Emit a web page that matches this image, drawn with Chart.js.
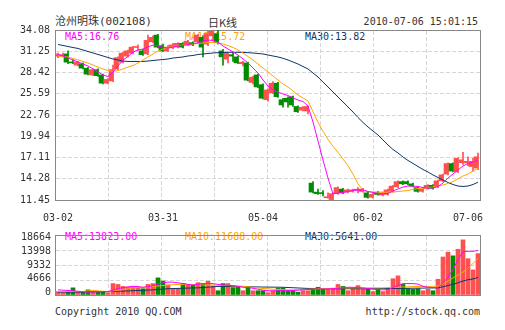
<!DOCTYPE html>
<html>
<head>
<meta charset="utf-8">
<script src="https://cdn.jsdelivr.net/npm/chart.js@4.4.0/dist/chart.umd.min.js"></script>
<style>
    html, body { margin: 0; padding: 0; background: #fff; }
    #wrap { position: relative; width: 505px; height: 330px; overflow: hidden;
            font-family: 'DejaVu Sans Mono', 'Noto Sans CJK SC', monospace; font-size: 10px; color: #333; }
    .txt { position: absolute; white-space: nowrap; line-height: 12px; }
    canvas { position: absolute; left: 0; }
</style>
</head>
<body>
<div id="wrap">
    <div class="txt" style="left:55px;top:16px;font-size:11px;">沧州明珠(002108)</div>
    <div class="txt" style="left:208px;top:16px;font-size:11px;font-family:'Noto Sans CJK SC';">日K线</div>
    <div class="txt" style="right:27px;top:16px;">2010-07-06 15:01:15</div>

    <div class="txt" style="left:65px;top:31px;color:#ff00ff;">MA5:16.76</div>
    <div class="txt" style="left:185px;top:31px;color:#ffa500;">MA10:15.72</div>
    <div class="txt" style="left:305px;top:31px;color:#0d3768;">MA30:13.82</div>

    <div class="txt" style="left:65px;top:231px;color:#ff00ff;">MA5:13823.00</div>
    <div class="txt" style="left:185px;top:231px;color:#ffa500;">MA10:11688.00</div>
    <div class="txt" style="left:305px;top:231px;color:#0d3768;">MA30:5641.00</div>

    <div class="txt" style="left:55px;top:306px;">Copyright 2010 QQ.COM</div>
    <div class="txt" style="right:25px;top:306px;">http://stock.qq.com</div>

    <canvas id="kline" width="505" height="225" style="top:0"></canvas>
    <canvas id="vol" width="505" height="80" style="top:225px"></canvas>
</div>

<script>
/* ── Data ─────────────────────────────────────────── */
const dateLabels = ['03-02', '03-31', '05-04', '06-02', '07-06'];
const dateIdx = [0, 21, 41, 62, 82];
const priceTicks = [11.45, 14.28, 17.11, 19.94, 22.76, 25.59, 28.42, 31.25, 34.08];
const volTicks = [0, 4666, 9332, 13998, 18664];

const opens = [
    30.6, 30.6, 30.9, 29.75, 29.4, 29.6, 29.0, 28.1, 28.8, 28.1,
    27.0, 27.3, 28.9, 29.8, 30.6, 31.0, 31.75, 31.3, 30.9, 32.5,
    33.4, 32.0, 31.3, 31.7, 31.8, 32.3, 32.1, 32.4, 32.5, 33.1,
    32.2, 33.3, 33.6, 31.3, 30.2, 30.8, 30.5, 29.6, 29.7, 27.1,
    28.1, 26.8, 24.8, 25.7, 27.0, 24.8, 25.0, 25.2, 23.9, 23.4,
    23.3, 13.7, 12.5, 12.4, 11.75, 11.5, 12.3, 12.9, 12.5, 12.6,
    12.75, 12.6, 12.4, 11.8, 12.4, 12.1, 12.2, 12.6, 13.2, 13.9,
    13.9, 13.6, 13.1, 12.6, 13.0, 13.4, 13.2, 14.0, 14.9, 16.3,
    15.2, 16.4, 16.4, 15.9, 15.7
];
const highs = [
    31.0, 31.0, 31.3, 30.1, 29.9, 29.7, 29.1, 28.9, 28.9, 28.2,
    27.6, 29.4, 30.5, 31.1, 31.4, 31.9, 32.1, 31.5, 33.4, 33.3,
    33.5, 32.2, 32.0, 32.3, 32.4, 32.4, 32.7, 32.5, 33.5, 33.3,
    33.9, 34.05, 34.0, 31.5, 31.1, 31.1, 30.6, 29.9, 29.8, 27.9,
    28.2, 26.9, 26.2, 27.2, 27.1, 25.0, 25.2, 25.3, 24.0, 23.9,
    24.0, 13.9, 12.9, 12.7, 12.4, 12.4, 13.2, 13.0, 12.9, 12.9,
    13.1, 13.0, 12.5, 12.3, 12.6, 12.5, 12.9, 13.4, 14.0, 14.0,
    14.0, 13.7, 13.2, 13.0, 13.5, 13.5, 14.1, 14.9, 16.4, 16.4,
    17.1, 17.8, 17.2, 17.0, 17.7
];
const lows = [
    30.4, 30.5, 29.6, 29.6, 29.3, 28.9, 28.1, 28.0, 27.9, 26.9,
    26.9, 27.2, 28.8, 29.7, 30.5, 30.9, 31.4, 30.7, 30.8, 32.4,
    31.7, 31.2, 31.2, 31.6, 31.7, 31.7, 32.0, 32.0, 32.4, 30.5,
    32.0, 32.8, 32.2, 29.4, 29.7, 29.9, 29.6, 29.3, 27.3, 26.9,
    26.4, 24.9, 24.6, 25.6, 25.1, 23.8, 23.8, 23.9, 23.1, 23.3,
    22.9, 12.4, 12.2, 12.0, 11.7, 11.45, 12.2, 12.3, 12.4, 12.5,
    12.4, 12.5, 11.7, 11.7, 12.1, 12.0, 12.1, 12.5, 13.1, 13.5,
    13.5, 13.2, 12.5, 12.5, 12.9, 12.9, 13.1, 13.9, 14.8, 15.2,
    15.1, 16.2, 16.0, 15.3, 15.5
];
const closes = [
    30.9, 30.8, 29.8, 29.7, 29.8, 29.0, 28.2, 28.8, 28.0, 27.0,
    27.5, 28.8, 30.4, 31.0, 31.3, 31.8, 31.8, 30.8, 32.7, 33.1,
    31.8, 31.3, 31.8, 32.1, 32.3, 31.8, 32.6, 32.1, 33.4, 31.8,
    33.6, 33.9, 32.4, 30.5, 31.0, 30.6, 29.7, 29.8, 27.4, 27.8,
    26.5, 25.0, 26.1, 27.0, 25.2, 24.1, 24.5, 24.1, 23.2, 23.8,
    23.9, 12.5, 12.3, 12.3, 11.8, 12.3, 13.1, 12.4, 12.8, 12.8,
    12.8, 12.9, 11.8, 12.2, 12.2, 12.4, 12.8, 13.3, 13.9, 13.6,
    13.6, 13.3, 12.6, 12.9, 13.4, 13.0, 14.0, 14.8, 16.3, 15.3,
    17.0, 16.8, 16.6, 16.6, 17.2
];

const ma5 = [
    30.82, 30.62, 30.35, 30.09, 29.82, 29.55, 29.29, 28.89, 28.49, 28.09,
    27.89, 28.49, 29.29, 30.09, 30.55, 31.15, 31.42, 31.55, 31.82, 32.08,
    31.95, 31.75, 31.68, 31.82, 31.95, 32.02, 32.15, 32.28, 32.35, 32.62,
    32.75, 32.68, 32.48, 31.95, 31.55, 31.15, 30.75, 30.22, 29.69, 29.02,
    28.36, 27.42, 26.63, 26.09, 25.83, 25.56, 25.36, 25.03, 24.76, 24.56,
    23.96, 21.83, 19.30, 16.77, 14.38, 12.25, 12.38, 12.45, 12.58, 12.71,
    12.78, 12.78, 12.58, 12.45, 12.32, 12.25, 12.32, 12.65, 12.92, 13.18,
    13.31, 13.31, 13.25, 13.11, 13.05, 13.05, 13.25, 13.71, 14.38, 14.91,
    15.44, 15.98, 16.31, 16.51, 16.76
];
const ma10 = [
    30.62, 30.55, 30.49, 30.29, 30.09, 29.89, 29.69, 29.42, 29.15, 28.89,
    28.69, 28.56, 28.69, 28.89, 29.15, 29.35, 29.69, 30.09, 30.49, 30.89,
    31.28, 31.55, 31.75, 31.88, 32.02, 32.08, 32.15, 32.22, 32.28, 32.35,
    32.42, 32.42, 32.35, 32.22, 32.02, 31.75, 31.42, 31.02, 30.55, 30.09,
    29.55, 29.02, 28.49, 27.96, 27.42, 26.89, 26.49, 25.96, 25.43, 25.03,
    24.63, 23.20, 21.80, 20.60, 19.50, 18.60, 17.80, 16.90, 16.00, 14.90,
    13.60, 12.71, 12.58, 12.52, 12.52, 12.48, 12.48, 12.52, 12.58, 12.65,
    12.71, 12.85, 12.98, 13.05, 13.11, 13.18, 13.25, 13.45, 13.65, 13.91,
    14.25, 14.65, 14.91, 15.31, 15.72
];
const ma30 = [
    32.15, 32.02, 31.88, 31.75, 31.62, 31.42, 31.22, 31.02, 30.82, 30.62,
    30.42, 30.22, 30.09, 29.95, 29.89, 29.89, 29.89, 29.89, 29.95, 30.02,
    30.09, 30.15, 30.22, 30.35, 30.42, 30.49, 30.62, 30.69, 30.82, 30.89,
    30.95, 31.02, 31.06, 31.09, 31.11, 31.11, 31.11, 31.09, 31.06, 31.02,
    30.95, 30.89, 30.75, 30.62, 30.49, 30.31, 30.09, 29.82, 29.55, 29.22,
    28.89, 28.36, 27.82, 27.16, 26.49, 25.83, 25.16, 24.50, 23.83, 23.16,
    22.43, 21.77, 21.17, 20.63, 20.10, 19.44, 18.77, 18.17, 17.71, 17.17,
    16.71, 16.31, 15.91, 15.51, 15.18, 14.78, 14.45, 14.11, 13.78, 13.51,
    13.31, 13.25, 13.31, 13.51, 13.82
];

const volumes = [
    1066, 800, 1066, 2222, 900, 900, 1600, 900, 900, 900,
    711, 3555, 3290, 2666, 2400, 2666, 2500, 1955, 3290, 3555,
    5332, 4355, 3110, 1777, 1955, 3555, 3290, 3110, 3822, 3555,
    4266, 2845, 1333, 3555, 3555, 2300, 2400, 1333, 2400, 1333,
    1333, 1333, 711, 1333, 2044, 2133, 1333, 1333, 888, 1333,
    1333, 2044, 2400, 2044, 2044, 2044, 3288, 2666, 1333, 2222,
    2930, 1777, 1777, 1066, 1777, 1066, 1777, 5065, 5955, 3290,
    1955, 1777, 1955, 1333, 1777, 1333, 4888, 11820, 13330, 12180,
    14220, 17150, 11290, 7820, 12880
];
const volMa5 = [
    1600, 1500, 1400, 1333, 1150, 1000, 900, 950, 1000, 1066,
    1066, 1500, 2000, 2300, 2550, 2666, 2600, 2400, 2600, 2900,
    3400, 3800, 4000, 4000, 3800, 3555, 3300, 3110, 3300, 3555,
    3555, 3555, 3300, 3110, 3000, 2930, 2700, 2400, 2300, 2100,
    1800, 1500, 1333, 1250, 1333, 1400, 1333, 1400, 1500, 1600,
    1700, 1777, 1800, 1850, 1900, 1955, 2100, 2300, 2400, 2400,
    2300, 2200, 2000, 1800, 1700, 1600, 1700, 2300, 3000, 3555,
    3555, 3555, 3400, 2700, 2400, 2300, 2222, 3800, 5500, 8000,
    11000, 13500, 13600, 13600, 13823
];
const volMa10 = [
    1066, 1066, 1066, 1100, 1100, 1100, 1300, 1400, 1300, 1150,
    1066, 1300, 1500, 1700, 1900, 2222, 2350, 2450, 2550, 2666,
    2800, 2950, 3110, 3200, 3290, 3290, 3290, 3250, 3200, 3110,
    3110, 3110, 3050, 3000, 2930, 2850, 2750, 2666, 2550, 2400,
    2200, 2000, 1955, 1800, 1700, 1650, 1600, 1600, 1650, 1700,
    1777, 1850, 1900, 1955, 2000, 2100, 2222, 2222, 2222, 2222,
    2222, 2222, 2222, 2222, 2222, 2222, 2300, 2300, 2400, 2500,
    2550, 2600, 2666, 2666, 2666, 2700, 2800, 3500, 4300, 5332,
    6200, 7110, 8400, 9800, 11400
];
const volMa30 = [
    888, 900, 900, 920, 930, 950, 970, 990, 1010, 1030,
    1066, 1120, 1170, 1220, 1280, 1333, 1400, 1460, 1530, 1600,
    1720, 1840, 1955, 2000, 2050, 2100, 2150, 2190, 2222, 2330,
    2440, 2550, 2666, 2666, 2666, 2666, 2666, 2666, 2580, 2540,
    2500, 2480, 2460, 2440, 2420, 2400, 2330, 2260, 2190, 2110,
    2044, 2030, 2010, 1990, 1970, 1955, 1955, 1955, 1955, 1955,
    1955, 1955, 1955, 1970, 1985, 2000, 2015, 2030, 2044, 2070,
    2090, 2110, 2130, 2150, 2175, 2200, 2222, 2550, 2950, 3350,
    3800, 4350, 4750, 5000, 5450
];

/* ── Styles ───────────────────────────────────────── */
const RED = '#ff5050';
const GREEN = '#008c00';
const C_MA5 = '#ff00ff';
const C_MA10 = '#ffa500';
const C_MA30 = '#0d3768';
const GRID = '#d6d6d6';
const FRAME = '#888888';
const CLEAR = 'rgba(0,0,0,0)';

Chart.defaults.font.family = "'DejaVu Sans Mono', monospace";
Chart.defaults.font.size = 10;
Chart.defaults.color = '#333';

const idx = closes.map((_, i) => i);
const candleColors = idx.map(i => closes[i] >= opens[i] ? RED : GREEN);

// force an axis to a fixed thickness so the plot box lands where the picture has it
function fixedSize(size) {
    return scale => {
        if (scale.isHorizontal()) scale.height = size;
        else scale.width = size;
    };
}
function setTicks(values) {
    return scale => { scale.ticks = values.map(v => ({ value: v })); };
}
function maLine(values, color) {
    return {
        type: 'line',
        data: values.map((v, i) => ({ x: i, y: v })),
        borderColor: color,
        borderWidth: 1,
        pointRadius: 0,
        tension: 0,
        order: 0,
        xAxisID: 'x'
    };
}
// dashed vertical grid: 8 even columns, edges left to the frame
function columnGrid(topSize) {
    return {
        type: 'linear', position: 'top', min: 0, max: 8, offset: false,
        afterFit: fixedSize(topSize),
        ticks: { display: false, stepSize: 1 },
        grid: { offset: false, color: c => (c.index === 0 || c.index === 8) ? CLEAR : GRID, drawTicks: false },
        border: { color: FRAME, dash: [4, 2] }
    };
}
function rightFrame() {
    return {
        position: 'right', min: 0, max: 1,
        afterFit: fixedSize(25),
        grid: { display: false },
        ticks: { display: false },
        border: { color: FRAME }
    };
}

// ── Price (K line) chart ────────────────────────────
new Chart(document.getElementById('kline'), {
    type: 'bar',
    data: {
        datasets: [
            maLine(ma5, C_MA5),
            maLine(ma10, C_MA10),
            maLine(ma30, C_MA30),
            {
                type: 'bar',
                data: idx.map(i => ({ x: i, y: [opens[i], closes[i]] })),
                backgroundColor: candleColors,
                barThickness: 4,
                minBarLength: 1,
                order: 1,
                xAxisID: 'x'
            },
            {
                type: 'bar',
                data: idx.map(i => ({ x: i, y: [lows[i], highs[i]] })),
                backgroundColor: candleColors,
                barThickness: 1,
                order: 2,
                xAxisID: 'xw'
            }
        ]
    },
    options: {
        responsive: false,
        animation: false,
        events: [],
        layout: { padding: 0 },
        plugins: { legend: { display: false }, tooltip: { enabled: false } },
        scales: {
            x: {
                type: 'linear', position: 'bottom', min: -0.6, max: 84.4, offset: false,
                afterBuildTicks: setTicks(dateIdx),
                afterFit: fixedSize(25),
                grid: { display: false, drawTicks: false, offset: false },
                border: { color: FRAME },
                ticks: { autoSkip: false, maxRotation: 0, padding: 12, callback: (v, i) => dateLabels[i] }
            },
            xw: { type: 'linear', display: false, min: -0.5, max: 84.5, offset: false, grid: { offset: false } },
            xg: columnGrid(30),
            y: {
                min: 11.45, max: 34.08,
                afterBuildTicks: setTicks(priceTicks),
                afterFit: fixedSize(55),
                grid: { color: c => (c.index === 0 || c.index === priceTicks.length - 1) ? CLEAR : GRID, drawTicks: false },
                border: { color: FRAME, dash: [4, 2] },
                ticks: { padding: 5, callback: v => v.toFixed(2) }
            },
            yr: rightFrame()
        }
    }
});

// ── Volume chart ────────────────────────────────────
new Chart(document.getElementById('vol'), {
    type: 'bar',
    data: {
        datasets: [
            maLine(volMa5, C_MA5),
            maLine(volMa10, C_MA10),
            maLine(volMa30, C_MA30),
            {
                type: 'bar',
                data: idx.map(i => ({ x: i, y: volumes[i] })),
                backgroundColor: candleColors,
                barThickness: 4,
                order: 1,
                xAxisID: 'x'
            }
        ]
    },
    options: {
        responsive: false,
        animation: false,
        events: [],
        layout: { padding: 0 },
        plugins: { legend: { display: false }, tooltip: { enabled: false } },
        scales: {
            x: {
                type: 'linear', position: 'bottom', min: -0.6, max: 84.4, offset: false,
                afterFit: fixedSize(5),
                grid: { display: false, drawTicks: false, offset: false },
                ticks: { display: false },
                border: { color: FRAME }
            },
            xg: columnGrid(5),
            y: {
                min: 0, max: 18664, weight: 0,
                afterBuildTicks: setTicks(volTicks),
                afterFit: fixedSize(0),
                grid: { color: c => (c.index === 0 || c.index === volTicks.length - 1) ? CLEAR : GRID, drawTicks: false },
                ticks: { display: false },
                border: { color: FRAME, dash: [4, 2] }
            },
            // label axis: the picture keeps its end labels just inside the frame
            yl: {
                position: 'left', weight: 1, min: -875, max: 19539,
                afterBuildTicks: setTicks(volTicks),
                afterFit: fixedSize(55),
                grid: { display: false, drawTicks: false },
                border: { display: false },
                ticks: { padding: 4, callback: v => String(v) }
            },
            yr: rightFrame()
        }
    }
});
</script>
</body>
</html>
